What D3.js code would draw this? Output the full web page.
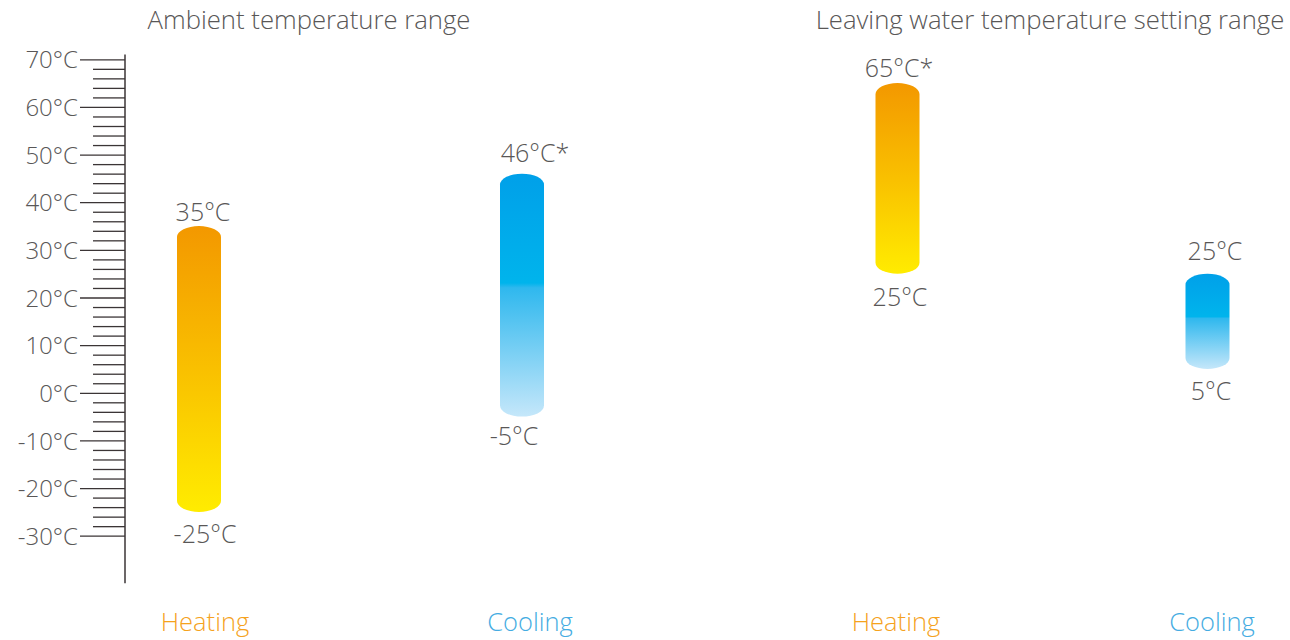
<!DOCTYPE html>
<html>
<head>
<meta charset="utf-8">
<script src="https://cdn.jsdelivr.net/npm/d3@7"></script>
<style>
  html, body { margin: 0; padding: 0; background: #fff; }
  svg { display: block; font-family: "Open Sans", sans-serif; font-weight: 300; }
</style>
</head>
<body>
<svg id="chart" width="1290" height="640"></svg>
<script>
// ---- data ----
const groups = ["Ambient temperature range", "Leaving water temperature setting range"];
const categories = ["Heating", "Cooling", "Heating", "Cooling"];
const barKeys = ["ambHeat", "ambCool", "lwtHeat", "lwtCool"];
const minValues = [-25, -5, 25, 5];
const maxValues = [35, 46, 65, 25];
const maxLabels = ["35°C", "46°C*", "65°C*", "25°C"];
const minLabels = ["-25°C", "-5°C", "25°C", "5°C"];
const majorTicks = [70, 60, 50, 40, 30, 20, 10, 0, -10, -20, -30];
const minorTicks = d3.range(-30, 70, 2).filter(v => v % 10 !== 0);

// ---- layout ----
const svg = d3.select("#chart");
const y = d3.scaleLinear().domain([70, -30]).range([59.3, 535.7]);
const x = d3.scaleOrdinal().domain(barKeys).range([199, 522, 897.5, 1207.5]);
const labelX = d3.scaleOrdinal().domain(barKeys).range([205, 530, 896, 1212]);
const titleX = d3.scaleOrdinal().domain(groups).range([309, 1050]);
// label nudges (layout only)
const hiOff = { ambHeat: [4, -5], ambCool: [13, -12], lwtHeat: [1.5, -6], lwtCool: [7.5, -14] };
const loOff = { ambHeat: [6, 31], ambCool: [-8, 28], lwtHeat: [2.5, 32], lwtCool: [3.5, 31] };
const axisX = 125;
const textGrey = "#595757";
const axisColor = "#3b3536";

// gradients
const defs = svg.append("defs");
const heat = defs.append("linearGradient").attr("id", "gHeat").attr("x1", 0).attr("y1", 0).attr("x2", 0).attr("y2", 1);
heat.append("stop").attr("offset", 0).attr("stop-color", "#f39800");
heat.append("stop").attr("offset", 0.5).attr("stop-color", "#f9c000");
heat.append("stop").attr("offset", 1).attr("stop-color", "#ffec00");
const cool = defs.append("linearGradient").attr("id", "gCool").attr("x1", 0).attr("y1", 0).attr("x2", 0).attr("y2", 1);
cool.append("stop").attr("offset", 0).attr("stop-color", "#00a0e9");
cool.append("stop").attr("offset", 0.45).attr("stop-color", "#00b4ec");
cool.append("stop").attr("offset", 0.47).attr("stop-color", "#2fb8ee");
cool.append("stop").attr("offset", 1).attr("stop-color", "#c5e7fa");

// axis: minor ticks
const minorAxis = d3.axisLeft(y).tickValues(minorTicks).tickSize(32).tickFormat("");
const gMinor = svg.append("g").attr("transform", `translate(${axisX},0)`).call(minorAxis);
// axis: major ticks
const majorAxis = d3.axisLeft(y).tickValues(majorTicks).tickSize(45).tickPadding(2).tickFormat(d => d + "°C");
const gMajor = svg.append("g").attr("transform", `translate(${axisX},0)`).call(majorAxis);
[gMinor, gMajor].forEach(g => {
  g.select(".domain").remove();
  g.selectAll(".tick line").attr("stroke", axisColor).attr("stroke-width", 1.3);
});
gMajor.selectAll(".tick text")
  .attr("fill", textGrey)
  .style("font-family", "'Open Sans', sans-serif")
  .style("font-weight", 300)
  .style("font-size", "24px")
  .attr("dy", "0.36em");
// axis spine
svg.append("line")
  .attr("x1", axisX).attr("x2", axisX)
  .attr("y1", y(71)).attr("y2", y(-40))
  .attr("stroke", axisColor).attr("stroke-width", 1.5);

// titles
svg.selectAll(".title").data(groups).join("text")
  .attr("class", "title")
  .attr("x", d => titleX(d)).attr("y", 29)
  .attr("text-anchor", "middle")
  .attr("fill", textGrey)
  .style("font-size", "25.7px")
  .text(d => d);

// bars
const bars = barKeys.map((k, i) => ({ key: k, cat: categories[i], lo: minValues[i], hi: maxValues[i], hiL: maxLabels[i], loL: minLabels[i] }));
const halfW = 22, ry = 11;
function capsule(d) {
  const cx = x(d.key), t = y(d.hi), b = y(d.lo);
  return `M${cx - halfW},${t + ry} A${halfW},${ry} 0 0 1 ${cx + halfW},${t + ry} L${cx + halfW},${b - ry} A${halfW},${ry} 0 0 1 ${cx - halfW},${b - ry} Z`;
}
svg.selectAll(".bar").data(bars).join("path")
  .attr("class", "bar")
  .attr("d", capsule)
  .attr("fill", d => d.cat === "Heating" ? "url(#gHeat)" : "url(#gCool)");

// value labels
svg.selectAll(".hiLabel").data(bars).join("text")
  .attr("class", "hiLabel")
  .attr("x", d => x(d.key) + hiOff[d.key][0]).attr("y", d => y(d.hi) + hiOff[d.key][1])
  .attr("text-anchor", "middle").attr("fill", textGrey)
  .style("font-size", "25px")
  .text(d => d.hiL);
svg.selectAll(".loLabel").data(bars).join("text")
  .attr("class", "loLabel")
  .attr("x", d => x(d.key) + loOff[d.key][0]).attr("y", d => y(d.lo) + loOff[d.key][1])
  .attr("text-anchor", "middle").attr("fill", textGrey)
  .style("font-size", "25px")
  .text(d => d.loL);

// category labels
svg.selectAll(".cat").data(bars).join("text")
  .attr("class", "cat")
  .attr("x", d => labelX(d.key)).attr("y", 631)
  .attr("text-anchor", "middle")
  .attr("fill", d => d.cat === "Heating" ? "#f5a21d" : "#45ace2")
  .style("font-size", "25.5px")
  .text(d => d.cat);
</script>
</body>
</html>
